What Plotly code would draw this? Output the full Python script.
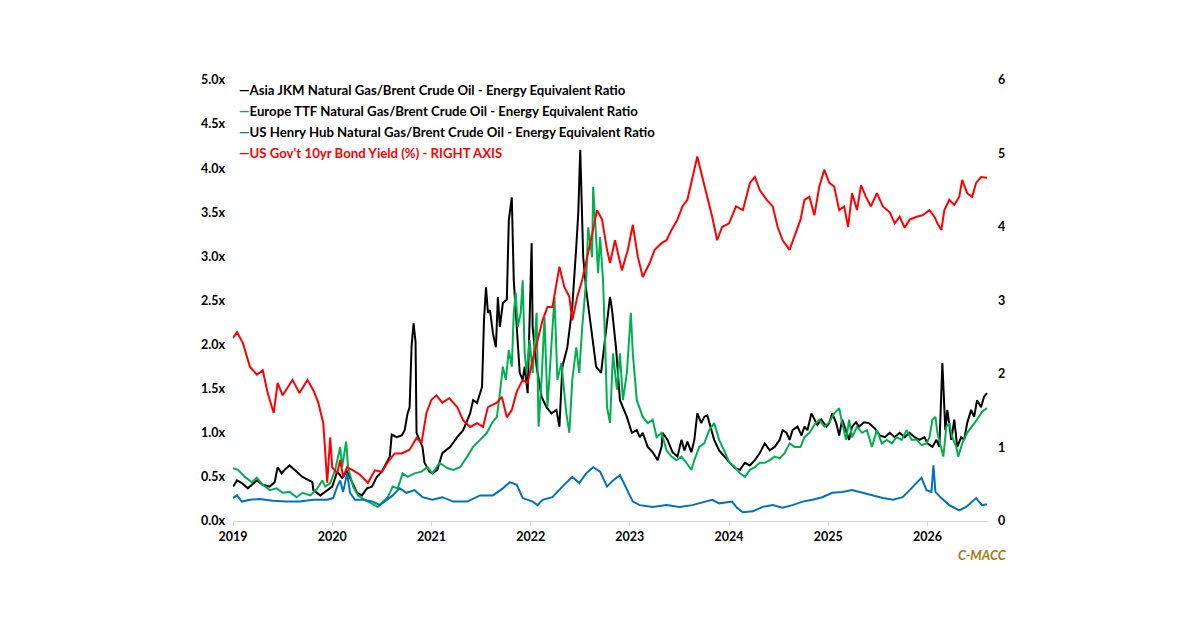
import plotly.graph_objects as go

# ---------------- data ----------------
jkm_t = [2019.00, 2019.04, 2019.09, 2019.15, 2019.24, 2019.30, 2019.37, 2019.42, 2019.45, 2019.49,
         2019.52, 2019.57, 2019.64, 2019.70, 2019.80, 2019.81, 2019.88, 2019.93, 2020.00, 2020.05,
         2020.10, 2020.15, 2020.20, 2020.25, 2020.30, 2020.35, 2020.40, 2020.45, 2020.50, 2020.55,
         2020.58, 2020.60, 2020.65, 2020.70, 2020.73, 2020.76, 2020.78, 2020.80, 2020.82, 2020.84,
         2020.85, 2020.88, 2020.91, 2020.93, 2020.98, 2021.01, 2021.06, 2021.11, 2021.19, 2021.26,
         2021.32, 2021.39, 2021.42, 2021.46, 2021.51, 2021.53, 2021.55, 2021.57, 2021.59, 2021.62,
         2021.65, 2021.67, 2021.69, 2021.72, 2021.76, 2021.78, 2021.80, 2021.81, 2021.83, 2021.86,
         2021.89, 2021.92, 2021.94, 2021.97, 2022.01, 2022.02, 2022.06, 2022.11, 2022.16, 2022.21,
         2022.26, 2022.29, 2022.32, 2022.37, 2022.42, 2022.46, 2022.48, 2022.50, 2022.51, 2022.53,
         2022.56, 2022.61, 2022.66, 2022.71, 2022.76, 2022.80, 2022.82, 2022.86, 2022.90, 2022.97,
         2023.02, 2023.07, 2023.10, 2023.13, 2023.18, 2023.23, 2023.28, 2023.32, 2023.33, 2023.38,
         2023.43, 2023.48, 2023.52, 2023.55, 2023.58, 2023.62, 2023.65, 2023.68, 2023.72, 2023.75,
         2023.78, 2023.82, 2023.85, 2023.90, 2023.95, 2024.00, 2024.06, 2024.11, 2024.16, 2024.21,
         2024.26, 2024.31, 2024.36, 2024.41, 2024.46, 2024.51, 2024.54, 2024.58, 2024.61, 2024.64,
         2024.69, 2024.73, 2024.76, 2024.79, 2024.83, 2024.86, 2024.89, 2024.93, 2024.98, 2025.01,
         2025.04, 2025.08, 2025.11, 2025.14, 2025.18, 2025.21, 2025.24, 2025.28, 2025.31, 2025.36,
         2025.41, 2025.47, 2025.52, 2025.57, 2025.62, 2025.67, 2025.72, 2025.77, 2025.82, 2025.87,
         2025.92, 2025.97, 2026.00, 2026.05, 2026.09, 2026.12, 2026.15, 2026.16, 2026.18, 2026.20,
         2026.24, 2026.27, 2026.30, 2026.34, 2026.37, 2026.40, 2026.44, 2026.47, 2026.50, 2026.54,
         2026.57, 2026.60]
jkm_v = [0.39, 0.46, 0.43, 0.37, 0.46, 0.41, 0.39, 0.44, 0.61, 0.54,
         0.58, 0.63, 0.56, 0.50, 0.44, 0.35, 0.29, 0.33, 0.39, 0.56,
         0.49, 0.56, 0.43, 0.32, 0.29, 0.37, 0.39, 0.50, 0.56, 0.66,
         0.73, 0.98, 0.95, 0.97, 1.03, 1.22, 1.29, 1.98, 2.24, 2.03,
         1.00, 0.92, 0.84, 0.66, 0.56, 0.54, 0.58, 0.77, 0.84, 0.95,
         1.03, 1.22, 1.37, 1.34, 1.52, 2.28, 2.65, 2.36, 2.39, 2.13,
         1.97, 2.54, 2.20, 2.47, 2.51, 3.41, 3.64, 3.67, 2.73, 2.13,
         1.68, 1.60, 1.75, 1.45, 3.15, 2.20, 1.75, 1.41, 1.29, 1.22,
         1.26, 1.07, 1.75, 1.97, 2.43, 3.11, 3.49, 4.21, 3.87, 2.99,
         2.62, 2.20, 1.75, 1.68, 2.20, 2.54, 2.40, 1.97, 1.37, 1.18,
         1.00, 1.03, 0.95, 1.00, 0.84, 0.78, 0.69, 0.84, 1.00, 0.92,
         0.78, 0.73, 0.92, 0.80, 0.90, 0.78, 0.92, 1.22, 1.11, 1.18,
         1.20, 1.03, 0.92, 0.80, 0.73, 0.67, 0.60, 0.58, 0.66, 0.63,
         0.69, 0.77, 0.88, 0.80, 0.84, 0.92, 1.03, 1.00, 0.92, 1.03,
         1.07, 0.97, 1.07, 1.03, 1.22, 1.15, 1.09, 1.15, 1.07, 1.11,
         1.22, 1.11, 0.97, 1.15, 1.03, 0.92, 1.07, 1.12, 1.07, 1.12,
         1.11, 1.05, 0.97, 0.95, 1.00, 0.95, 1.00, 0.95, 1.00, 0.95,
         0.92, 0.95, 0.88, 0.84, 0.92, 0.84, 1.79, 1.49, 1.03, 1.26,
         0.92, 1.15, 0.84, 0.95, 0.92, 1.11, 1.26, 1.18, 1.37, 1.29,
         1.41, 1.45]

ttf_t = [2019.00, 2019.05, 2019.12, 2019.19, 2019.24, 2019.30, 2019.37, 2019.44, 2019.50, 2019.57,
         2019.64, 2019.70, 2019.78, 2019.85, 2019.90, 2019.93, 2019.98, 2020.03, 2020.08, 2020.10,
         2020.14, 2020.16, 2020.21, 2020.26, 2020.33, 2020.40, 2020.46, 2020.51, 2020.56, 2020.61,
         2020.66, 2020.71, 2020.76, 2020.83, 2020.90, 2020.96, 2021.01, 2021.08, 2021.16, 2021.22,
         2021.29, 2021.36, 2021.42, 2021.49, 2021.56, 2021.61, 2021.66, 2021.69, 2021.72, 2021.75,
         2021.78, 2021.81, 2021.83, 2021.85, 2021.87, 2021.90, 2021.92, 2021.94, 2021.96, 2021.99,
         2022.02, 2022.06, 2022.08, 2022.11, 2022.14, 2022.17, 2022.21, 2022.24, 2022.27, 2022.31,
         2022.36, 2022.39, 2022.42, 2022.46, 2022.49, 2022.52, 2022.56, 2022.58, 2022.62, 2022.63,
         2022.65, 2022.68, 2022.70, 2022.73, 2022.75, 2022.77, 2022.80, 2022.83, 2022.87, 2022.90,
         2022.93, 2022.97, 2023.01, 2023.03, 2023.07, 2023.13, 2023.18, 2023.23, 2023.27, 2023.32,
         2023.37, 2023.42, 2023.47, 2023.52, 2023.57, 2023.62, 2023.65, 2023.70, 2023.75, 2023.80,
         2023.85, 2023.90, 2023.95, 2024.00, 2024.06, 2024.11, 2024.16, 2024.21, 2024.26, 2024.31,
         2024.36, 2024.41, 2024.46, 2024.51, 2024.56, 2024.61, 2024.66, 2024.72, 2024.76, 2024.81,
         2024.86, 2024.91, 2024.96, 2025.01, 2025.06, 2025.11, 2025.14, 2025.18, 2025.21, 2025.24,
         2025.29, 2025.34, 2025.39, 2025.44, 2025.49, 2025.54, 2025.59, 2025.64, 2025.69, 2025.74,
         2025.79, 2025.84, 2025.89, 2025.94, 2025.99, 2026.02, 2026.05, 2026.08, 2026.10, 2026.14,
         2026.16, 2026.19, 2026.22, 2026.25, 2026.29, 2026.31, 2026.35, 2026.40, 2026.45, 2026.50,
         2026.55, 2026.60]
ttf_v = [0.60, 0.58, 0.50, 0.44, 0.49, 0.41, 0.35, 0.37, 0.32, 0.33,
         0.27, 0.32, 0.29, 0.37, 0.46, 0.39, 0.43, 0.58, 0.84, 0.61,
         0.90, 0.61, 0.39, 0.29, 0.24, 0.20, 0.16, 0.22, 0.27, 0.39,
         0.37, 0.54, 0.50, 0.54, 0.56, 0.61, 0.54, 0.66, 0.60, 0.58,
         0.61, 0.73, 0.84, 0.92, 1.00, 1.11, 1.18, 1.45, 1.75, 1.60,
         1.94, 1.75, 2.36, 2.59, 2.20, 2.36, 2.73, 1.90, 1.68, 2.05,
         1.68, 2.36, 1.07, 1.60, 2.31, 1.29, 2.05, 2.54, 1.60, 1.79,
         1.22, 1.00, 1.60, 1.97, 1.68, 2.20, 2.73, 3.33, 2.99, 3.79,
         3.41, 2.81, 3.22, 2.73, 2.05, 1.29, 1.11, 1.90, 1.49, 1.90,
         1.37, 1.68, 2.36, 1.90, 1.37, 1.18, 1.11, 1.15, 0.95, 1.00,
         0.80, 0.73, 0.69, 0.73, 0.66, 0.58, 0.69, 0.84, 0.88, 1.03,
         1.11, 0.92, 0.80, 0.67, 0.61, 0.54, 0.50, 0.58, 0.61, 0.66,
         0.66, 0.69, 0.73, 0.71, 0.77, 0.88, 0.84, 0.84, 0.95, 1.00,
         1.09, 1.15, 1.07, 1.12, 1.22, 1.28, 1.11, 0.92, 1.15, 0.95,
         1.07, 1.00, 1.03, 0.84, 1.03, 0.88, 0.92, 0.88, 0.95, 0.92,
         1.03, 0.92, 0.92, 0.86, 0.88, 0.95, 1.15, 1.18, 1.00, 0.80,
         0.73, 1.07, 1.11, 0.95, 0.84, 0.73, 0.88, 1.00, 1.07, 1.15,
         1.24, 1.28]

hh_t = [2019.00, 2019.04, 2019.09, 2019.17, 2019.27, 2019.40, 2019.54, 2019.67, 2019.81, 2019.95,
        2020.01, 2020.05, 2020.08, 2020.11, 2020.15, 2020.18, 2020.23, 2020.31, 2020.41, 2020.48,
        2020.55, 2020.61, 2020.68, 2020.75, 2020.83, 2020.91, 2021.01, 2021.11, 2021.22, 2021.36,
        2021.49, 2021.62, 2021.72, 2021.79, 2021.86, 2021.92, 2022.02, 2022.07, 2022.12, 2022.22,
        2022.32, 2022.42, 2022.49, 2022.56, 2022.63, 2022.70, 2022.77, 2022.83, 2022.90, 2022.97,
        2023.03, 2023.10, 2023.23, 2023.37, 2023.50, 2023.63, 2023.77, 2023.83, 2023.90, 2024.03,
        2024.08, 2024.14, 2024.24, 2024.34, 2024.44, 2024.54, 2024.64, 2024.74, 2024.84, 2024.94,
        2025.04, 2025.14, 2025.24, 2025.34, 2025.45, 2025.55, 2025.65, 2025.75, 2025.82, 2025.89,
        2025.94, 2025.99, 2026.04, 2026.06, 2026.08, 2026.14, 2026.22, 2026.32, 2026.39, 2026.49,
        2026.55, 2026.60]
hh_v = [0.26, 0.29, 0.22, 0.24, 0.25, 0.23, 0.22, 0.22, 0.24, 0.24,
        0.26, 0.39, 0.46, 0.33, 0.54, 0.32, 0.24, 0.24, 0.22, 0.18,
        0.24, 0.29, 0.37, 0.32, 0.35, 0.27, 0.24, 0.27, 0.22, 0.22,
        0.29, 0.29, 0.37, 0.44, 0.41, 0.26, 0.22, 0.18, 0.24, 0.27,
        0.39, 0.50, 0.43, 0.54, 0.61, 0.56, 0.39, 0.46, 0.52, 0.35,
        0.22, 0.18, 0.16, 0.18, 0.16, 0.18, 0.22, 0.24, 0.20, 0.22,
        0.15, 0.10, 0.11, 0.16, 0.18, 0.15, 0.18, 0.22, 0.24, 0.27,
        0.32, 0.33, 0.35, 0.32, 0.29, 0.26, 0.24, 0.27, 0.35, 0.43,
        0.49, 0.35, 0.33, 0.63, 0.33, 0.26, 0.18, 0.12, 0.16, 0.26,
        0.18, 0.19]

ust_t = [2019.00, 2019.04, 2019.10, 2019.17, 2019.24, 2019.30, 2019.35, 2019.41, 2019.45, 2019.50,
         2019.60, 2019.67, 2019.75, 2019.81, 2019.86, 2019.91, 2019.95, 2019.98, 2020.00, 2020.05,
         2020.08, 2020.11, 2020.15, 2020.21, 2020.28, 2020.36, 2020.43, 2020.50, 2020.56, 2020.63,
         2020.70, 2020.78, 2020.85, 2020.90, 2020.95, 2021.00, 2021.05, 2021.11, 2021.18, 2021.26,
         2021.32, 2021.39, 2021.46, 2021.52, 2021.57, 2021.66, 2021.71, 2021.76, 2021.81, 2021.86,
         2021.92, 2021.97, 2022.02, 2022.07, 2022.12, 2022.17, 2022.22, 2022.29, 2022.34, 2022.39,
         2022.42, 2022.47, 2022.52, 2022.58, 2022.63, 2022.67, 2022.72, 2022.77, 2022.80, 2022.85,
         2022.92, 2022.98, 2023.03, 2023.08, 2023.13, 2023.20, 2023.25, 2023.32, 2023.37, 2023.42,
         2023.48, 2023.53, 2023.58, 2023.63, 2023.68, 2023.73, 2023.78, 2023.83, 2023.88, 2023.93,
         2024.00, 2024.07, 2024.14, 2024.21, 2024.26, 2024.31, 2024.38, 2024.44, 2024.49, 2024.54,
         2024.61, 2024.72, 2024.76, 2024.81, 2024.86, 2024.91, 2024.96, 2025.01, 2025.06, 2025.11,
         2025.16, 2025.20, 2025.24, 2025.29, 2025.33, 2025.38, 2025.43, 2025.49, 2025.55, 2025.62,
         2025.67, 2025.72, 2025.77, 2025.82, 2025.89, 2025.95, 2026.02, 2026.07, 2026.10, 2026.14,
         2026.17, 2026.22, 2026.27, 2026.32, 2026.35, 2026.40, 2026.45, 2026.49, 2026.54, 2026.60]
ust_v = [2.49, 2.57, 2.42, 2.10, 1.99, 2.05, 1.74, 1.47, 1.88, 1.71,
         1.92, 1.74, 1.92, 1.78, 1.61, 1.33, 0.52, 1.14, 0.73, 0.65,
         0.83, 0.60, 0.73, 0.69, 0.63, 0.52, 0.69, 0.67, 0.80, 0.92,
         0.92, 0.97, 1.13, 1.06, 1.47, 1.65, 1.71, 1.61, 1.67, 1.55,
         1.37, 1.28, 1.33, 1.28, 1.55, 1.61, 1.69, 1.41, 1.51, 1.76,
         1.92, 1.88, 2.19, 2.46, 2.73, 2.91, 2.91, 3.46, 3.18, 3.05,
         2.73, 3.05, 3.28, 3.65, 4.00, 4.23, 4.10, 3.69, 3.51, 3.82,
         3.41, 3.69, 4.03, 3.60, 3.32, 3.51, 3.69, 3.78, 3.82, 3.96,
         4.10, 4.28, 4.37, 4.68, 4.96, 4.68, 4.41, 4.14, 3.82, 4.00,
         4.05, 4.28, 4.23, 4.60, 4.68, 4.50, 4.37, 4.28, 4.00, 3.82,
         3.69, 4.10, 4.37, 4.41, 4.16, 4.55, 4.78, 4.60, 4.55, 4.23,
         4.28, 4.00, 4.46, 4.23, 4.57, 4.41, 4.28, 4.46, 4.28, 4.20,
         4.05, 4.14, 3.99, 4.10, 4.14, 4.16, 4.23, 4.14, 4.05, 3.96,
         4.23, 4.37, 4.30, 4.41, 4.64, 4.46, 4.41, 4.60, 4.68, 4.67]

year_ticks = [2019, 2020, 2021, 2022, 2023, 2024, 2025, 2026]
left_ticks = [0.0, 0.5, 1.0, 1.5, 2.0, 2.5, 3.0, 3.5, 4.0, 4.5, 5.0]
left_labels = ["0.0x", "0.5x", "1.0x", "1.5x", "2.0x", "2.5x", "3.0x", "3.5x", "4.0x", "4.5x", "5.0x"]
right_ticks = [0, 1, 2, 3, 4, 5, 6]

series_names = [
    "Asia JKM Natural Gas/Brent Crude Oil - Energy Equivalent Ratio",
    "Europe TTF Natural Gas/Brent Crude Oil - Energy Equivalent Ratio",
    "US Henry Hub Natural Gas/Brent Crude Oil - Energy Equivalent Ratio",
    "US Gov't 10yr Bond Yield (%) - RIGHT AXIS",
]
colors = ["#000000", "#00b050", "#0070c0", "#ff0000"]

# ---------------- figure ----------------
FONT = "Lato"
fig = go.Figure()
fig.add_trace(go.Scatter(x=jkm_t, y=jkm_v, mode="lines", name=series_names[0],
                         line=dict(color=colors[0], width=2), yaxis="y"))
fig.add_trace(go.Scatter(x=ttf_t, y=ttf_v, mode="lines", name=series_names[1],
                         line=dict(color=colors[1], width=2), yaxis="y"))
fig.add_trace(go.Scatter(x=hh_t, y=hh_v, mode="lines", name=series_names[2],
                         line=dict(color=colors[2], width=2), yaxis="y"))
fig.add_trace(go.Scatter(x=ust_t, y=ust_v, mode="lines", name=series_names[3],
                         line=dict(color=colors[3], width=2), yaxis="y2"))

# legend rows drawn as text with coloured dash keys (Excel-style short keys)
for i, (nm, c) in enumerate(zip(series_names, colors)):
    txt_color = "#ff0000" if i == 3 else "#000000"
    fig.add_annotation(
        xref="paper", yref="paper", x=0.005, y=(431 - 21 * i) / 441,
        xanchor="left", yanchor="middle", showarrow=False,
        text=f"<span style='color:{c}'>—</span><span style='color:{txt_color}'>{nm}</span>",
        font=dict(family=FONT, size=13.2, color=txt_color, weight="bold"),
    )

fig.add_annotation(
    xref="paper", yref="paper", x=1.028, y=-0.077, xanchor="right", yanchor="middle",
    showarrow=False, text="<b><i>C-MACC</i></b>",
    font=dict(family=FONT, size=13, color="#a07d12"),
)

fig.update_layout(
    width=1192, height=619,
    margin=dict(l=225, r=212, t=72, b=106),
    paper_bgcolor="white", plot_bgcolor="white",
    showlegend=False,
    font=dict(family=FONT, size=12.5, color="#000000", weight="bold"),
    xaxis=dict(
        range=[2019, 2026.61], tickvals=year_ticks, ticktext=[str(y) for y in year_ticks],
        showgrid=False, zeroline=False, showline=True, linecolor="#d9d9d9", linewidth=1,
        ticks="outside", ticklen=4, tickcolor="#d9d9d9",
        tickfont=dict(family=FONT, size=12.5, color="#000000", weight="bold"),
    ),
    yaxis=dict(
        range=[0, 5], tickvals=left_ticks, ticktext=left_labels,
        showgrid=False, zeroline=False, showline=False, ticks="",
        ticklabelstandoff=7,
        tickfont=dict(family=FONT, size=12.5, color="#000000", weight="bold"),
    ),
    yaxis2=dict(
        range=[0, 6], tickvals=right_ticks, overlaying="y", side="right",
        showgrid=False, zeroline=False, showline=False, ticks="",
        ticklabelstandoff=9,
        tickfont=dict(family=FONT, size=12.5, color="#000000", weight="bold"),
    ),
)

fig.write_html("out.html")
